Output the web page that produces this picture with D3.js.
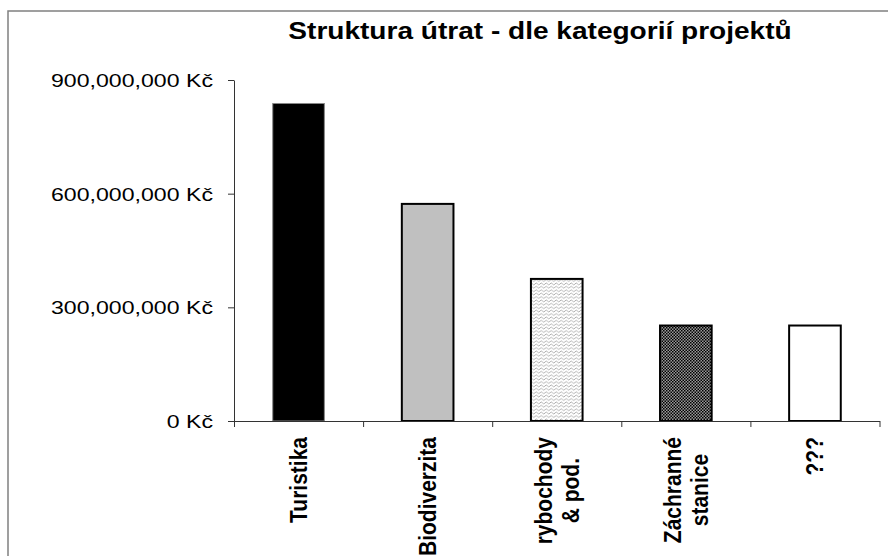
<!DOCTYPE html>
<html>
<head>
<meta charset="utf-8">
<script src="https://cdn.jsdelivr.net/npm/d3@7"></script>
<style>
  body { margin: 0; background: #fff; }
  text { font-family: "Liberation Sans", Arial, sans-serif; }
</style>
</head>
<body>
<div id="chart"></div>
<script>
// values
const categories = ["Turistika", "Biodiverzita", "rybochody\n& pod.", "Záchranné\nstanice", "???"];
const values = [838000000, 573000000, 375000000, 252000000, 252000000];
const yTicks = [0, 300000000, 600000000, 900000000];
const chartTitle = "Struktura útrat - dle kategorií projektů";

const width = 888;
const height = 556;
const margin = {top: 80, right: 8.5, bottom: 135, left: 234};
const stretch = 1.22; // text in the original looks horizontally stretched

const svg = d3.select("#chart")
    .append("svg")
    .attr("width", width)
    .attr("height", height);

// patterns for the hatched bars
const defs = svg.append("defs");
const wave = defs.append("pattern")
    .attr("id", "wave")
    .attr("patternUnits", "userSpaceOnUse")
    .attr("width", 5)
    .attr("height", 3.4);
wave.append("rect").attr("width", 5).attr("height", 3.4).attr("fill", "#fff");
wave.append("path")
    .attr("d", "M0,1.7 L1.25,0.8 L2.5,1.7 L3.75,2.6 L5,1.7")
    .attr("fill", "none")
    .attr("stroke", "#9a9a9a")
    .attr("stroke-width", 0.8);

const checker = defs.append("pattern")
    .attr("id", "checker")
    .attr("patternUnits", "userSpaceOnUse")
    .attr("width", 3)
    .attr("height", 3);
checker.append("rect").attr("width", 3).attr("height", 3).attr("fill", "#9a9a9a");
checker.append("rect").attr("width", 1.5).attr("height", 1.5).attr("fill", "#000");
checker.append("rect").attr("x", 1.5).attr("y", 1.5).attr("width", 1.5).attr("height", 1.5).attr("fill", "#000");

const fills = ["#000", "#c0c0c0", "url(#wave)", "url(#checker)", "#fff"];

// frame
svg.append("rect")
    .attr("x", 8)
    .attr("y", 11)
    .attr("width", 900)
    .attr("height", 600)
    .attr("fill", "none")
    .attr("stroke", "#808080")
    .attr("stroke-width", 1.5);

const x = d3.scaleBand()
    .domain(categories)
    .range([margin.left, width - margin.right])
    .paddingInner(0.6)
    .paddingOuter(0.3);

const y = d3.scaleLinear()
    .domain([0, 900000000])
    .range([height - margin.bottom, margin.top]);

// Bars
svg.selectAll(".bar")
    .data(values)
    .enter()
    .append("rect")
    .attr("class", "bar")
    .attr("x", (d, i) => x(categories[i]))
    .attr("y", d => y(d))
    .attr("width", x.bandwidth())
    .attr("height", d => y(0) - y(d))
    .attr("fill", (d, i) => fills[i])
    .attr("stroke", (d, i) => i === 0 ? "#888" : "#000")
    .attr("stroke-width", (d, i) => i === 0 ? 1 : 2);

// Axis Y
const yAxis = svg.append("g")
    .attr("transform", `translate(${margin.left},0)`)
    .call(d3.axisLeft(y)
        .tickValues(yTicks)
        .tickSize(6)
        .tickSizeOuter(0)
        .tickPadding(15)
        .tickFormat(d => d3.format(",")(d) + " Kč"));
yAxis.select(".domain").attr("stroke", "#333");
yAxis.selectAll(".tick line").attr("stroke", "#333");
yAxis.selectAll("text")
    .attr("x", null)
    .attr("dy", "0.35em")
    .attr("transform", `translate(-21,0) scale(1.25,1)`)
    .style("font-size", "18.5px")
    .attr("fill", "#000");

// Axis X, ticks sit between the categories
const xEdges = d3.scaleLinear()
    .domain([0, categories.length])
    .range([margin.left, width - margin.right]);
const xAxis = svg.append("g")
    .attr("transform", `translate(0,${y(0)})`)
    .call(d3.axisBottom(xEdges)
        .tickValues(d3.range(categories.length + 1))
        .tickSize(6)
        .tickSizeOuter(0)
        .tickFormat(""));
xAxis.select(".domain").attr("stroke", "#333");
xAxis.selectAll(".tick line").attr("stroke", "#333");

// Category labels, rotated
const labelTop = 437;
const lineGap = 26.5;
categories.forEach(c => {
    const lines = c.split("\n");
    const cx = x(c) + x.bandwidth() / 2;
    const g = svg.append("g");
    const texts = lines.map((line, j) => {
        const off = (j - (lines.length - 1) / 2) * lineGap;
        return g.append("text")
            .attr("text-anchor", "middle")
            .attr("dy", "0.35em")
            .style("font-size", "21px")
            .style("font-weight", "bold")
            .attr("fill", "#000")
            .text(line)
            .datum(cx + off);
    });
    const longest = d3.max(texts, t => t.node().getComputedTextLength());
    texts.forEach(t => {
        t.attr("transform", `translate(${t.datum()},${labelTop + longest / 2}) scale(${stretch * 0.95},1) rotate(-90)`);
    });
});

// Title
svg.append("text")
    .attr("transform", `translate(540,39) scale(${stretch},1)`)
    .attr("text-anchor", "middle")
    .style("font-size", "23px")
    .style("font-weight", "bold")
    .attr("fill", "#000")
    .text(chartTitle);
</script>
</body>
</html>
